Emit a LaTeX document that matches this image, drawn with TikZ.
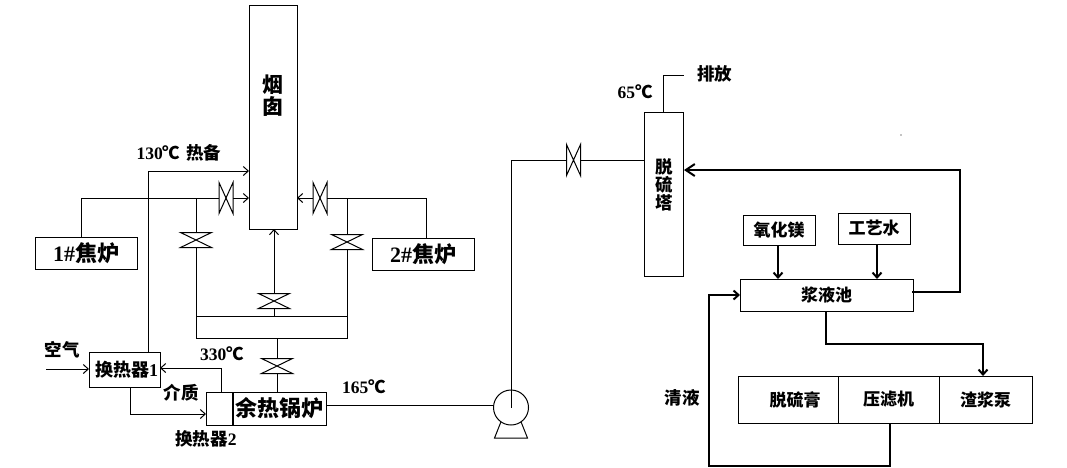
\documentclass[tikz,border=0pt]{standalone}
\usepackage{fontspec}
\setmainfont{Liberation Serif}
\newfontfamily\cjk{Noto Sans CJK SC}
\usetikzlibrary{arrows.meta}

\begin{document}
\begin{tikzpicture}[x=1pt,y=-1pt,line width=1pt]
    \tikzset{unit/.style = {shape=rectangle,draw,inner sep=0pt,outer sep=0pt,font=\cjk\bfseries\fontsize{17}{18}\selectfont,align=center}}
    \tikzset{tag/.style = {inner sep=0pt,font=\cjk\bfseries\fontsize{17.5}{18}\selectfont,align=center}}
    \tikzset{edge/.style = {->,> = {Straight Barb[length=5pt,width=9pt]}}}
    \tikzset{heavy/.style = {edge,line width=2pt}}
    \tikzset{valveh/.style = {inner sep=0pt,outer sep=0pt,minimum width=14pt,minimum height=31pt,
        append after command={\pgfextra{\draw (\tikzlastnode.north west) -- (\tikzlastnode.south east) -- (\tikzlastnode.north east) -- (\tikzlastnode.south west) -- cycle;}}}}
    \tikzset{valvev/.style = {inner sep=0pt,outer sep=0pt,minimum width=31pt,minimum height=15pt,
        append after command={\pgfextra{\draw (\tikzlastnode.north west) -- (\tikzlastnode.south east) -- (\tikzlastnode.south west) -- (\tikzlastnode.north east) -- cycle;}}}}
    \useasboundingbox (0,0) rectangle (1067,467);
    % units
    \node[unit,minimum width=48pt,minimum height=224pt] (Stack) at (273,117) {};
    \node[tag,font=\cjk\bfseries\fontsize{21}{22}\selectfont] (StackText) at (273,96) {烟\\囱};
    \node[unit,minimum width=102pt,minimum height=32pt,font=\cjk\bfseries\fontsize{22}{22}\selectfont] (Oven1) at (86,253) {\textrm{1\#}焦炉};
    \node[unit,minimum width=102pt,minimum height=32pt,font=\cjk\bfseries\fontsize{22}{22}\selectfont] (Oven2) at (423,254) {\textrm{2\#}焦炉};
    \node[unit,minimum width=151pt,minimum height=22pt] (Duct) at (271.5,327) {};
    \node[unit,minimum width=71pt,minimum height=35pt,font=\cjk\bfseries\fontsize{18}{18}\selectfont] (Hx1) at (124.5,369.5) {\hspace{4pt}换热器\textrm{1}};
    \node[unit,minimum width=27pt,minimum height=33pt] (Hx2) at (219.5,408.5) {};
    \node[unit,minimum width=93pt,minimum height=33pt,font=\cjk\bfseries\fontsize{22}{22}\selectfont] (Boiler) at (279.5,408.5) {余热锅炉};
    \draw[line width=2pt] (Hx2.north east) -- (Hx2.south east);
    \node[unit,minimum width=39pt,minimum height=164pt] (Tower) at (663.5,194) {};
    \node[tag] (TowerText) at (664,185) {脱\\硫\\塔};
    \node[unit,minimum width=72pt,minimum height=30pt] (MgO) at (779,230) {氧化镁};
    \node[unit,minimum width=72pt,minimum height=31pt] (Water) at (874,228.5) {工艺水};
    \node[unit,minimum width=173pt,minimum height=32pt] (Pool) at (826.5,295) {浆液池};
    \node[unit,minimum width=100pt,minimum height=47pt] (Gypsum) at (788,399.5) {\hspace{14pt}脱硫膏};
    \node[unit,minimum width=101pt,minimum height=47pt] (Press) at (888.5,399.5) {压滤机};
    \node[unit,minimum width=93pt,minimum height=47pt] (Slurry) at (985.5,399.5) {渣浆泵};
    % pump
    \node[shape=circle,draw,inner sep=0pt,outer sep=0pt,minimum size=35pt] (Pump) at (511,407.5) {};
    \draw (Pump.-125) -- (494.5,438) -- (527.5,438) -- (Pump.-55);
    % valves
    \node[valveh] (V1) at (226,198) {};
    \node[valveh] (V2) at (320,198) {};
    \node[valvev] (V3) at (196,240) {};
    \node[valvev] (V4) at (347,242) {};
    \node[valvev] (V5) at (274,301) {};
    \node[valvev] (V6) at (277,366) {};
    \node[valveh] (V7) at (573.5,160) {};
    % free ends and corners
    \coordinate (A1) at (81.5,237);
    \coordinate (A2) at (81.5,198);
    \coordinate (A3) at (249,198);
    \coordinate (B1) at (196,198);
    \coordinate (B2) at (196,316);
    \coordinate (C1) at (426,238);
    \coordinate (C2) at (426,198);
    \coordinate (C3) at (297,198);
    \coordinate (D1) at (347,198);
    \coordinate (D2) at (347,316);
    \coordinate (E1) at (274,316);
    \coordinate (E2) at (274,229);
    \coordinate (F1) at (277,338);
    \coordinate (F2) at (277,392);
    \coordinate (G1) at (148,352);
    \coordinate (G2) at (148,171);
    \coordinate (G3) at (249,171);
    \coordinate (H1) at (46,369);
    \coordinate (H2) at (89,369);
    \coordinate (I1) at (221,392);
    \coordinate (I2) at (221,368);
    \coordinate (I3) at (160,368);
    \coordinate (J1) at (130,387);
    \coordinate (J2) at (130,414);
    \coordinate (J3) at (206,414);
    \coordinate (K1) at (326,405);
    \coordinate (K2) at (494,405);
    \coordinate (L1) at (511,407.5);
    \coordinate (L2) at (511,160);
    \coordinate (L3) at (644,160);
    \coordinate (M1) at (663.5,112);
    \coordinate (M2) at (663.5,75);
    \coordinate (M3) at (684,75);
    \coordinate (N1) at (912,292);
    \coordinate (N2) at (960,292);
    \coordinate (N3) at (960,170);
    \coordinate (N4) at (684,170);
    \coordinate (P1) at (778,245);
    \coordinate (P2) at (778,279);
    \coordinate (Q1) at (877,244);
    \coordinate (Q2) at (877,279);
    \coordinate (R1) at (826,311);
    \coordinate (R2) at (826,344);
    \coordinate (R3) at (983,344);
    \coordinate (R4) at (983,376);
    \coordinate (S1) at (890,423);
    \coordinate (S2) at (890,466);
    \coordinate (S3) at (709,466);
    \coordinate (S4) at (709,295);
    \coordinate (S5) at (740,295);
    % edges
    \draw (A1) -- (A2) -- (V1.west);
    \draw[edge] (V1.east) -- (A3);
    \draw (B1) -- (V3.north);
    \draw (V3.south) -- (B2);
    \draw (C1) -- (C2) -- (V2.east);
    \draw[edge] (V2.west) -- (C3);
    \draw (D1) -- (V4.north);
    \draw (V4.south) -- (D2);
    \draw (E1) -- (V5.south);
    \draw[edge] (V5.north) -- (E2);
    \draw (F1) -- (V6.north);
    \draw (V6.south) -- (F2);
    \draw[edge] (G1) -- (G2) -- (G3);
    \draw[edge] (H1) -- (H2);
    \draw[edge] (I1) -- (I2) -- (I3);
    \draw[edge] (J1) -- (J2) -- (J3);
    \draw (K1) -- (K2);
    \draw (L1) -- (L2) -- (V7.west);
    \draw (V7.east) -- (L3);
    \draw (M1) -- (M2) -- (M3);
    \draw[heavy,> = {Straight Barb[length=9pt,width=12pt]}] (N1) -- (N2) -- (N3) -- (N4);
    \draw[heavy] (P1) -- (P2);
    \draw[heavy] (Q1) -- (Q2);
    \draw[heavy] (R1) -- (R2) -- (R3) -- (R4);
    \draw[heavy] (S1) -- (S2) -- (S3) -- (S4) -- (S5);
    % labels
    \node[tag] (T1) at (179,153) {\textrm{130}℃\hspace{6pt}热备};
    \node[tag] (T2) at (62,350) {空气};
    \node[tag] (T3) at (222,354) {\textrm{330}℃};
    \node[tag] (T4) at (181,393) {介质};
    \node[tag] (T5) at (206,439) {换热器\textrm{2}};
    \node[tag] (T6) at (364,387) {\textrm{165}℃};
    \node[tag] (T7) at (714.5,74) {排放};
    \node[tag] (T8) at (635,92) {\textrm{65}℃};
    \node[tag] (T9) at (682,398) {清液};
    \fill (901,135) circle (0.6pt);
\end{tikzpicture}
\end{document}
